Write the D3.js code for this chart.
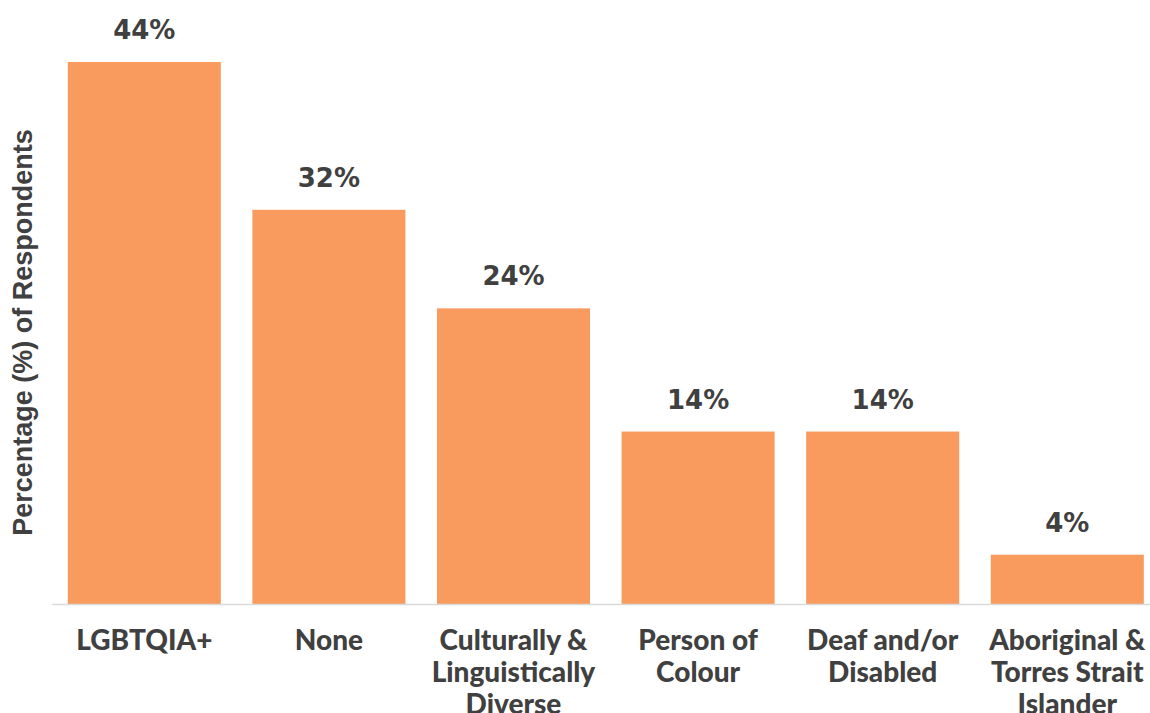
<!DOCTYPE html>
<html>
<head>
<meta charset="utf-8">
<script src="https://cdn.jsdelivr.net/npm/d3@7"></script>
<style>
  body { margin: 0; background: #fff; }
  svg { display: block; }
</style>
</head>
<body>
<svg id="chart" width="1150" height="713"></svg>
<script>
const categories = [
  ['LGBTQIA+'],
  ['None'],
  ['Culturally &', 'Linguistically', 'Diverse'],
  ['Person of', 'Colour'],
  ['Deaf and/or', 'Disabled'],
  ['Aboriginal &', 'Torres Strait', 'Islander'],
];
const values = [44, 32, 24, 14, 14, 4];
const yTitle = 'Percentage (%) of Respondents';

const width = 1150;
const barColor = '#F99A5E';
const textColor = '#404040';

const svg = d3.select('#chart');

const x = d3.scaleBand()
  .domain(d3.range(values.length))
  .range([52, 1159.6])
  .paddingInner(0.171)
  .paddingOuter(0.0855);

const y = d3.scaleLinear()
  .domain([0, 44])
  .range([604, 62]);

// bars
svg.append('g')
  .selectAll('rect')
  .data(values)
  .join('rect')
    .attr('x', (d, i) => x(i))
    .attr('y', (d) => y(d))
    .attr('width', x.bandwidth())
    .attr('height', (d) => y(0) - y(d))
    .attr('fill', barColor);

// baseline
svg.append('line')
  .attr('x1', 52)
  .attr('x2', width)
  .attr('y1', y(0) + 0.5)
  .attr('y2', y(0) + 0.5)
  .attr('stroke', '#d9d9d9')
  .attr('stroke-width', 1.5);

// value labels
svg.append('g')
  .selectAll('text')
  .data(values)
  .join('text')
    .attr('x', (d, i) => x(i) + x.bandwidth() / 2)
    .attr('y', (d) => y(d) - 23)
    .attr('text-anchor', 'middle')
    .style('font-family', '"DejaVu Sans", sans-serif')
    .style('font-weight', 700)
    .style('font-size', '26px')
    .attr('fill', textColor)
    .text((d) => `${d}%`);

// category labels, wrapped like the original
const cat = svg.append('g')
  .selectAll('text')
  .data(categories)
  .join('text')
    .attr('x', (d, i) => x(i) + x.bandwidth() / 2)
    .attr('y', 650)
    .attr('text-anchor', 'middle')
    .style('font-family', 'Lato, sans-serif')
    .style('font-weight', 900)
    .style('font-size', '28px')
    .attr('fill', textColor);
cat.selectAll('tspan')
  .data((d) => d)
  .join('tspan')
    .attr('x', function () { return d3.select(this.parentNode).attr('x'); })
    .attr('dy', (d, i) => (i === 0 ? 0 : 32))
    .text((d) => d);

// y axis title
svg.append('text')
  .attr('transform', `translate(32,${(130 + 535) / 2}) rotate(-90)`)
  .attr('text-anchor', 'middle')
  .style('font-family', '"Liberation Sans", Arial, sans-serif')
  .style('font-weight', 700)
  .style('font-size', '27px')
  .attr('fill', textColor)
  .text(yTitle);
</script>
</body>
</html>
